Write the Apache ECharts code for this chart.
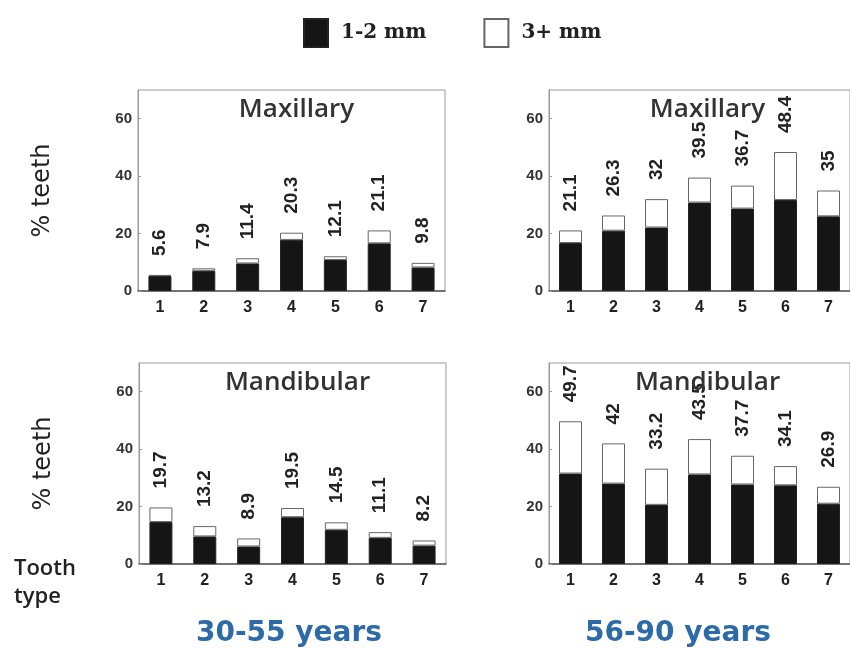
<!DOCTYPE html>
<html lang="en">
<head>
  <meta charset="UTF-8">
  <title>Tooth type by age</title>
  <script src="https://cdn.jsdelivr.net/npm/echarts@6/dist/echarts.min.js"></script>
  <style>
    html, body { margin: 0; padding: 0; background: #fff; }
    #chart { width: 850px; height: 650px; }
  </style>
</head>
<body>
  <div id="chart"></div>
  <script>
    var teeth = ['1', '2', '3', '4', '5', '6', '7'];
    var yTicks = [0, 20, 40, 60];

    // totals (printed above bars) and the black 1-2 mm part
    var maxYoungTotal = [5.6, 7.9, 11.4, 20.3, 12.1, 21.1, 9.8];
    var maxYoungSmall = [5.2, 7.0, 9.6, 17.8, 10.8, 16.6, 8.2];
    var maxOldTotal = [21.1, 26.3, 32, 39.5, 36.7, 48.4, 35];
    var maxOldSmall = [16.7, 21.0, 22.1, 30.8, 28.7, 31.7, 26.0];
    var manYoungTotal = [19.7, 13.2, 8.9, 19.5, 14.5, 11.1, 8.2];
    var manYoungSmall = [14.6, 9.6, 6.1, 16.3, 11.9, 9.1, 6.4];
    var manOldTotal = [49.7, 42, 33.2, 43.5, 37.7, 34.1, 26.9];
    var manOldSmall = [31.5, 28.0, 20.6, 31.2, 27.7, 27.4, 21.0];

    var panels = [
      { title: 'Maxillary', small: maxYoungSmall, total: maxYoungTotal, left: 138, top: 90, yName: '% teeth' },
      { title: 'Maxillary', small: maxOldSmall, total: maxOldTotal, left: 549, top: 90, yName: '' },
      { title: 'Mandibular', small: manYoungSmall, total: manYoungTotal, left: 139, top: 363, yName: '% teeth' },
      { title: 'Mandibular', small: manOldSmall, total: manOldTotal, left: 549, top: 363, yName: '' }
    ];

    var chart = echarts.init(document.getElementById('chart'));
    var grids = [], xAxes = [], yAxes = [], series = [], titles = [];

    panels.forEach(function (p, i) {
      grids.push({
        left: p.left, top: p.top, width: 307, height: 201,
        show: true, borderColor: '#9a9a9a', borderWidth: 1, backgroundColor: 'transparent'
      });
      titles.push({
        text: p.title,
        left: p.left + 153.5, top: p.top + 2, textAlign: 'center',
        textStyle: { fontFamily: 'Open Sans', fontSize: 26, fontWeight: 600, color: '#333' }
      });
      xAxes.push({
        type: 'category', gridIndex: i, data: teeth,
        axisLine: { lineStyle: { color: '#555', width: 1.5 } },
        axisTick: { show: false },
        axisLabel: { margin: 9, fontSize: 16, fontWeight: 'bold', color: '#222', fontFamily: 'Liberation Sans' }
      });
      yAxes.push({
        type: 'value', gridIndex: i, min: 0, max: 70, interval: 20,
        name: p.yName, nameLocation: 'middle', nameGap: 83, nameRotate: 90,
        nameTextStyle: { fontFamily: 'DejaVu Sans', fontSize: 24, fontWeight: 500, color: '#222' },
        axisLine: { show: true, lineStyle: { color: '#9a9a9a' } },
        axisTick: { show: true, inside: true, length: 3, lineStyle: { color: '#9a9a9a' } },
        splitLine: { show: false },
        axisLabel: {
          showMaxLabel: false, margin: 6, fontSize: 15, fontWeight: 'bold', color: '#333',
          fontFamily: 'Liberation Sans',
          formatter: function (v) { return yTicks.indexOf(v) >= 0 ? String(v) : ''; }
        }
      });
      series.push({
        name: '1-2 mm', type: 'bar', stack: 's' + i, xAxisIndex: i, yAxisIndex: i,
        barWidth: 23, data: p.small,
        itemStyle: { color: '#151515', borderColor: '#222', borderWidth: 1 }
      });
      series.push({
        name: '3+ mm', type: 'bar', stack: 's' + i, xAxisIndex: i, yAxisIndex: i,
        barWidth: 23,
        data: p.total.map(function (t, k) { return +(t - p.small[k]).toFixed(1); }),
        itemStyle: { color: '#fff', borderColor: '#666', borderWidth: 1 },
        label: {
          show: true, position: 'top', rotate: 90, distance: 19,
          align: 'left', verticalAlign: 'middle',
          fontSize: 19, fontWeight: 'bold', color: '#222', fontFamily: 'Liberation Sans',
          formatter: function (d) { return String(p.total[d.dataIndex]); }
        }
      });
    });

    chart.setOption({
      animation: false,
      backgroundColor: '#fff',
      title: titles,
      legend: {
        left: 298, top: 13, itemWidth: 24, itemHeight: 28, itemGap: 57,
        icon: 'rect',
        data: ['1-2 mm', '3+ mm'],
        textStyle: { fontFamily: 'DejaVu Serif', fontSize: 20, fontWeight: 'bold', color: '#222', padding: [0, 0, 0, 8] }
      },
      grid: grids,
      xAxis: xAxes,
      yAxis: yAxes,
      series: series,
      graphic: [
        { type: 'text', left: 14, top: 558, style: { text: 'Tooth', font: '600 22px "Open Sans"', fill: '#222' } },
        { type: 'text', left: 14, top: 586, style: { text: 'type', font: '600 22px "Open Sans"', fill: '#222' } },
        { type: 'text', left: 196, top: 620, style: { text: '30-55 years', font: 'bold 28px "DejaVu Sans"', fill: '#2d6aa8' } },
        { type: 'text', left: 585, top: 620, style: { text: '56-90 years', font: 'bold 28px "DejaVu Sans"', fill: '#2d6aa8' } }
      ]
    });
  </script>
</body>
</html>
